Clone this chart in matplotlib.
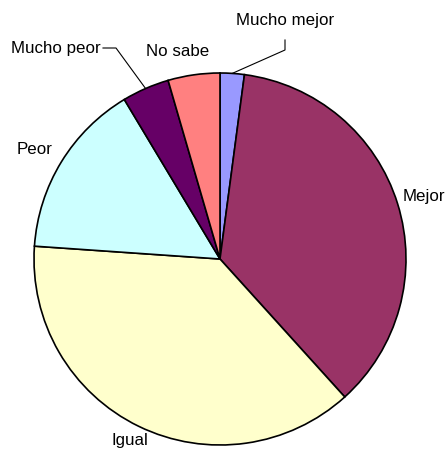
import matplotlib.pyplot as plt
import numpy as np

plt.rcParams['font.family'] = ['Liberation Sans', 'DejaVu Sans']

# datos (porcentaje aproximado de cada respuesta)
categorias = ['Mucho mejor', 'Mejor', 'Igual', 'Peor', 'Mucho peor', 'No sabe']
valores = [2.1, 36.2, 37.8, 15.3, 4.1, 4.5]
colores = ['#9999FF', '#993366', '#FFFFCC', '#CCFFFF', '#660066', '#FF8080']

W, H = 447, 454
fig = plt.figure(figsize=(W / 100, H / 100), dpi=100)
ax = fig.add_axes([0, 0, 1, 1])

cx, cy, r = 220, H - 259, 186
wedges, _ = ax.pie(valores, colors=colores, startangle=90, counterclock=False,
                   center=(cx, cy), radius=r, frame=True,
                   wedgeprops=dict(edgecolor='black', linewidth=1.2))
ax.set_xlim(0, W)
ax.set_ylim(0, H)
ax.axis('off')

fs = 12.2

def punto(w, frac=1.0):
    ang = np.deg2rad((w.theta1 + w.theta2) / 2)
    return cx + r * frac * np.cos(ang), cy + r * frac * np.sin(ang)

# Mucho mejor (con línea guía)
x0, y0 = punto(wedges[0])
ax.plot([x0, 285, 285], [y0, H - 50, H - 40], color='black', lw=0.8)
ax.text(285, H - 21, categorias[0], ha='center', va='center', fontsize=fs)

# Mejor
ax.text(403, H - 197, categorias[1], ha='left', va='center', fontsize=fs)

# Igual
ax.text(130, H - 440, categorias[2], ha='center', va='center', fontsize=fs)

# Peor
ax.text(35, H - 150, categorias[3], ha='center', va='center', fontsize=fs)

# Mucho peor (con línea guía)
x4, y4 = punto(wedges[4])
ax.plot([103, 116, x4], [H - 48, H - 48, y4], color='black', lw=0.8)
ax.text(101, H - 48, categorias[4], ha='right', va='center', fontsize=fs)

# No sabe
ax.text(178, H - 52, categorias[5], ha='center', va='center', fontsize=fs)

fig.savefig('out.png', dpi=100)
